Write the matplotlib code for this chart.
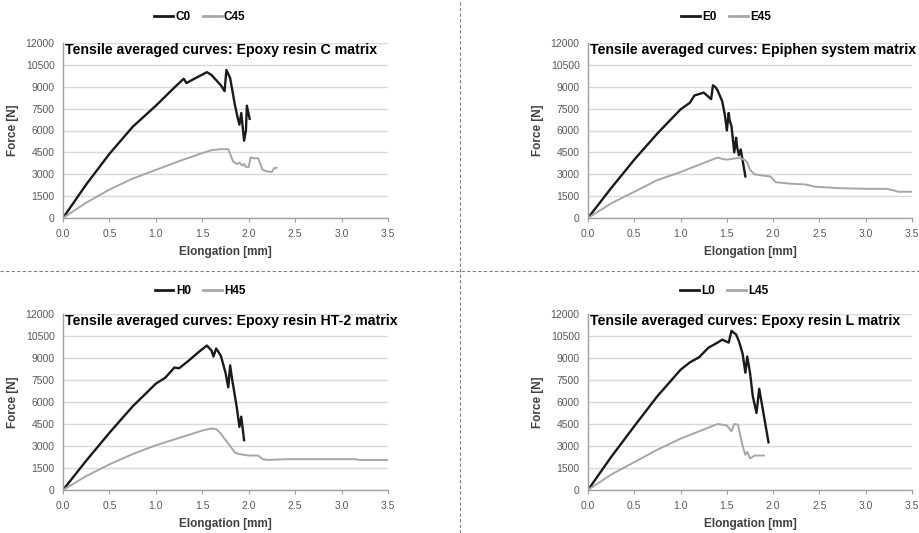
import matplotlib
matplotlib.use("Agg")
import matplotlib.pyplot as plt
from matplotlib.lines import Line2D

# ---------------- data ----------------
x_ticks = [0.0, 0.5, 1.0, 1.5, 2.0, 2.5, 3.0, 3.5]
y_ticks = [0, 1500, 3000, 4500, 6000, 7500, 9000, 10500, 12000]

titles = ["Tensile averaged curves: Epoxy resin C matrix",
          "Tensile averaged curves: Epiphen system matrix",
          "Tensile averaged curves: Epoxy resin HT-2 matrix",
          "Tensile averaged curves: Epoxy resin L matrix"]
labels0 = ["C0", "E0", "H0", "L0"]
labels45 = ["C45", "E45", "H45", "L45"]

# C
c0_x = [0.0, 0.25, 0.5, 0.75, 1.0, 1.2, 1.3, 1.33, 1.4, 1.55, 1.6, 1.7, 1.74, 1.76, 1.8, 1.85, 1.88, 1.9, 1.92, 1.95, 1.97, 1.98, 2.01]
c0_y = [0, 2300, 4400, 6250, 7700, 8950, 9550, 9250, 9500, 10000, 9800, 9100, 8700, 10150, 9600, 7800, 6900, 6400, 7200, 5300, 6000, 7700, 6800]
c45_x = [0.0, 0.25, 0.5, 0.75, 1.0, 1.25, 1.5, 1.6, 1.7, 1.78, 1.8, 1.83, 1.86, 1.88, 1.9, 1.93, 1.95, 1.97, 2.0, 2.02, 2.05, 2.1, 2.12, 2.15, 2.2, 2.25, 2.27, 2.3]
c45_y = [0, 1050, 1950, 2700, 3300, 3900, 4450, 4650, 4720, 4720, 4400, 3900, 3750, 3700, 3800, 3600, 3700, 3500, 3500, 4150, 4100, 4100, 3800, 3300, 3200, 3150, 3400, 3450]
# E
e0_x = [0.0, 0.25, 0.5, 0.75, 1.0, 1.1, 1.15, 1.25, 1.33, 1.35, 1.38, 1.4, 1.45, 1.48, 1.5, 1.52, 1.53, 1.55, 1.58, 1.6, 1.61, 1.63, 1.65, 1.7]
e0_y = [0, 2050, 4000, 5800, 7450, 7900, 8400, 8600, 8150, 9100, 8950, 8750, 8000, 7000, 6000, 7200, 6700, 6300, 4500, 5500, 4900, 4300, 4700, 2850]
e45_x = [0.0, 0.25, 0.5, 0.75, 1.0, 1.2, 1.4, 1.45, 1.5, 1.6, 1.65, 1.7, 1.72, 1.75, 1.8, 1.9, 1.97, 2.03, 2.2, 2.35, 2.45, 2.7, 3.0, 3.22, 3.3, 3.35, 3.5]
e45_y = [0, 1000, 1800, 2600, 3150, 3650, 4150, 4050, 4000, 4100, 4100, 3950, 3800, 3300, 3000, 2900, 2850, 2450, 2350, 2300, 2150, 2050, 2000, 2000, 1900, 1800, 1800]
# H
h0_x = [0.0, 0.25, 0.5, 0.75, 1.0, 1.1, 1.2, 1.25, 1.35, 1.45, 1.55, 1.6, 1.62, 1.65, 1.7, 1.75, 1.78, 1.8, 1.82, 1.87, 1.9, 1.92, 1.95]
h0_y = [0, 2000, 3900, 5700, 7250, 7650, 8350, 8300, 8800, 9350, 9850, 9500, 9100, 9650, 9150, 8000, 7000, 8500, 7600, 5700, 4300, 5000, 3400]
h45_x = [0.0, 0.25, 0.5, 0.75, 1.0, 1.25, 1.5, 1.6, 1.65, 1.7, 1.75, 1.8, 1.85, 1.9, 2.0, 2.1, 2.15, 2.2, 2.4, 3.0, 3.15, 3.2, 3.5]
h45_y = [0, 950, 1750, 2450, 3050, 3550, 4050, 4200, 4150, 3850, 3400, 3000, 2550, 2450, 2350, 2350, 2100, 2050, 2100, 2100, 2100, 2050, 2050]
# L
l0_x = [0.0, 0.25, 0.5, 0.75, 1.0, 1.1, 1.2, 1.3, 1.4, 1.45, 1.52, 1.55, 1.6, 1.63, 1.67, 1.7, 1.72, 1.75, 1.78, 1.82, 1.85, 1.88, 1.95]
l0_y = [0, 2250, 4350, 6400, 8200, 8700, 9050, 9700, 10050, 10250, 10050, 10850, 10600, 10150, 9300, 8000, 9100, 8000, 6400, 5250, 6900, 5800, 3250]
l45_x = [0.0, 0.25, 0.5, 0.75, 1.0, 1.2, 1.4, 1.5, 1.55, 1.58, 1.62, 1.67, 1.7, 1.72, 1.75, 1.8, 1.9]
l45_y = [0, 1050, 1900, 2750, 3500, 4000, 4500, 4400, 4000, 4500, 4450, 3000, 2400, 2600, 2150, 2350, 2350]

series0 = [(c0_x, c0_y), (e0_x, e0_y), (h0_x, h0_y), (l0_x, l0_y)]
series45 = [(c45_x, c45_y), (e45_x, e45_y), (h45_x, h45_y), (l45_x, l45_y)]

# ---------------- styling ----------------
BLACK = "#1a1a1a"
GRAY = "#a6a6a6"
GRID = "#d9d9d9"
TICKC = "#595959"
plt.rcParams["font.family"] = ["Liberation Sans", "DejaVu Sans"]

fig = plt.figure(figsize=(9.2, 5.33), dpi=100)

W, H = 920.0, 533.0
# (left, right, top, bottom) in pixels
boxes = [(63, 388, 43, 218), (588, 912, 43, 218),
         (63, 388, 314, 490), (588, 912, 314, 490)]
legend_pos = [(200, 17), (726, 17), (200, 291), (724, 291)]

for i, (l, r, t, b) in enumerate(boxes):
    ax = fig.add_axes([l / W, 1 - b / H, (r - l) / W, (b - t) / H])
    ax.plot(*series0[i], color=BLACK, lw=1.7, label=labels0[i])
    ax.plot(*series45[i], color=GRAY, lw=1.4, label=labels45[i])
    ax.set_xlim(0, 3.5)
    ax.set_ylim(0, 12000)
    ax.set_xticks(x_ticks)
    ax.set_xticklabels([f"{v:.1f}" for v in x_ticks])
    ax.set_yticks(y_ticks)
    ax.set_yticklabels([str(v) for v in y_ticks])
    ax.grid(axis="y", color=GRID, lw=1.0)
    ax.set_axisbelow(True)
    for s in ("top", "right"):
        ax.spines[s].set_visible(False)
    for s in ("left", "bottom"):
        ax.spines[s].set_color("#a0a0a0")
        ax.spines[s].set_linewidth(1.0)
    ax.tick_params(axis="x", direction="out", length=3, color="#a0a0a0", labelsize=7.5, labelcolor=TICKC, pad=5)
    ax.tick_params(axis="y", length=0, labelsize=7.5, labelcolor=TICKC, pad=6)
    ax.set_xlabel("Elongation [mm]", fontsize=8.5, fontweight="bold", color="#404040", labelpad=5)
    ax.set_ylabel("Force [N]", fontsize=8.5, fontweight="bold", color="#404040", labelpad=5)
    ax.text(0.005, 1.0, titles[i], transform=ax.transAxes, ha="left", va="top",
            fontsize=10.2, fontweight="bold", color="black")
    lx, ly = legend_pos[i]
    handles = [Line2D([], [], color=BLACK, lw=2.0), Line2D([], [], color=GRAY, lw=2.0)]
    fig.legend(handles, [labels0[i], labels45[i]], loc="center",
               bbox_to_anchor=(lx / W, 1 - ly / H), ncol=2, frameon=False,
               handlelength=1.6, handletextpad=0.2, columnspacing=1.0,
               prop={"weight": "bold", "size": 8.5})

# dashed dividers
fig.add_artist(Line2D([0.5, 0.5], [0, 1], transform=fig.transFigure, color="#808080",
                      lw=0.8, ls=(0, (3, 2))))
fig.add_artist(Line2D([0, 1], [1 - 271 / H, 1 - 271 / H], transform=fig.transFigure,
                      color="#808080", lw=0.8, ls=(0, (3, 2))))

fig.savefig("out.png", dpi=100)
